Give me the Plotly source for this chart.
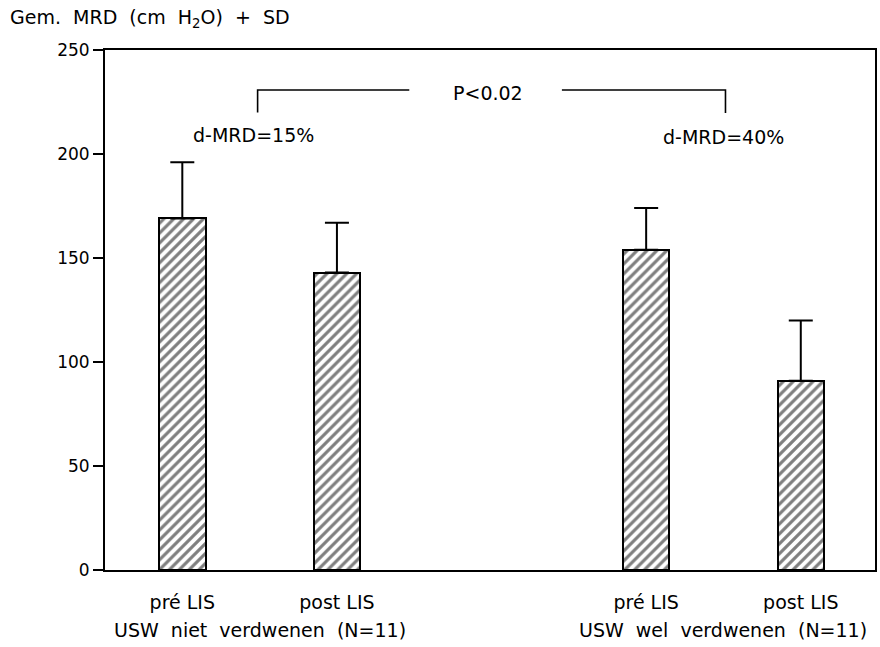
import plotly.graph_objects as go

# Mean MRD per group (cm H2O) with standard deviations
positions = [1, 2, 4, 5]
bar_labels = ["pré LIS", "post LIS", "pré LIS", "post LIS"]
mean_mrd = [169, 143, 154, 91]
sd_mrd = [27, 24, 20, 29]
group_positions = [1.5, 4.5]
group_labels = ["USW\u00a0 niet\u00a0 verdwenen\u00a0 (N=11)", "USW\u00a0 wel\u00a0 verdwenen\u00a0 (N=11)"]
y_ticks = [0, 50, 100, 150, 200, 250]

FONT = "DejaVu Sans"

fig = go.Figure()
fig.add_trace(go.Bar(
    x=positions,
    y=mean_mrd,
    width=0.3,
    marker=dict(
        color="white",
        line=dict(color="black", width=2),
        pattern=dict(shape="/", size=7, solidity=0.45, fgcolor="black", bgcolor="white"),
    ),
    error_y=dict(type="data", symmetric=False, array=sd_mrd, arrayminus=[0] * len(sd_mrd),
                 color="black", thickness=2, width=12),
    showlegend=False,
))

fig.update_layout(
    width=880, height=647,
    margin=dict(l=105, r=3, t=50, b=77),
    paper_bgcolor="white", plot_bgcolor="white",
    font=dict(family=FONT, size=17, color="black"),
    bargap=0,
    xaxis=dict(
        range=[0.5, 5.48], tickvals=positions, ticktext=bar_labels,
        showgrid=False, zeroline=False, showline=True, linecolor="black", linewidth=2,
        mirror=True, ticks="", ticklabelstandoff=14, tickfont=dict(size=19),
    ),
    yaxis=dict(
        range=[0, 250], tickvals=y_ticks, showgrid=False, zeroline=False,
        showline=True, linecolor="black", linewidth=2, mirror=True,
        ticks="outside", ticklen=10, tickwidth=2, tickcolor="black",
        tickfont=dict(size=17),
    ),
)

# group labels under each pair of bars
for gx, gl in zip(group_positions, group_labels):
    fig.add_annotation(x=gx, xref="x", y=-0.115, yref="paper", text=gl,
                       showarrow=False, font=dict(size=19), xanchor="center", yanchor="middle")

# y-axis title
fig.add_annotation(x=-0.1256, xref="paper", y=1.0615, yref="paper",
                   text="Gem.\u00a0 MRD\u00a0 (cm\u00a0 H<sub>2</sub>O)\u00a0 +\u00a0 SD", showarrow=False,
                   font=dict(size=19), xanchor="left", yanchor="middle")

# significance bracket between the two group changes
line_style = dict(color="black", width=1.6)
fig.add_shape(type="path", xref="x", yref="y",
              path="M 1.487,220 L 1.487,230.8 L 2.468,230.8", line=line_style)
fig.add_shape(type="path", xref="x", yref="y",
              path="M 3.455,230.8 L 4.513,230.8 L 4.513,219.7", line=line_style)
fig.add_annotation(x=2.98, y=229.3, text="P<0.02", showarrow=False,
                   font=dict(size=19), xanchor="center", yanchor="middle")
fig.add_annotation(x=1.46, y=209, text="d-MRD=15%", showarrow=False,
                   font=dict(size=19), xanchor="center", yanchor="middle")
fig.add_annotation(x=4.5, y=208, text="d-MRD=40%", showarrow=False,
                   font=dict(size=19), xanchor="center", yanchor="middle")

fig.write_html("out.html")
